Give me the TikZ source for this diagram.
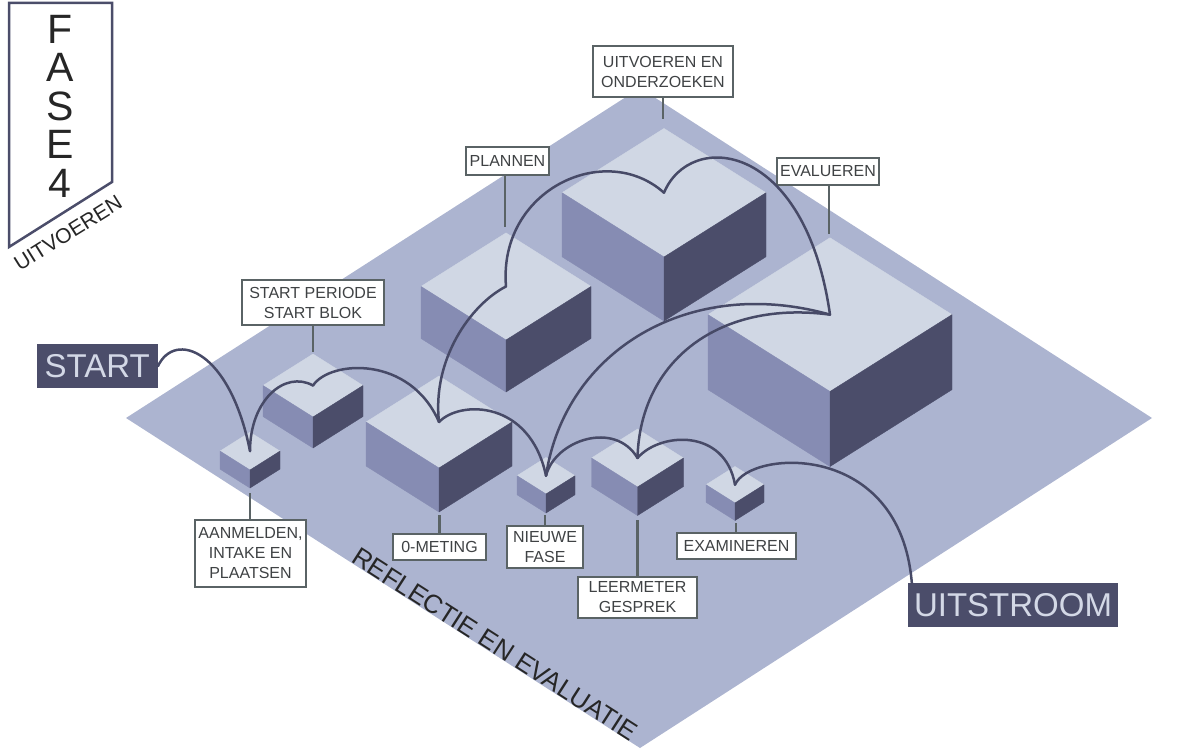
\documentclass[tikz,border=0pt]{standalone}
\usepackage{fontspec}
\setmainfont{Liberation Sans}
\usetikzlibrary{calc}
\definecolor{board}{HTML}{ACB4D0}
\definecolor{ftop}{HTML}{D0D7E4}
\definecolor{fleft}{HTML}{868CB3}
\definecolor{fright}{HTML}{4B4D6A}
\definecolor{arccol}{HTML}{474A67}
\definecolor{lblline}{HTML}{5A6365}
\definecolor{lbltext}{HTML}{3F4244}
\definecolor{darkbg}{HTML}{4B4D6A}
\definecolor{lighttext}{HTML}{D3D8E6}
\definecolor{inkcol}{HTML}{262626}

% cx, front-top y, half width, height, name of top-centre coordinate
\newcommand{\isobox}[5]{%
  \pgfmathsetmacro{\ibdy}{0.63*#3}%
  \filldraw[fill=ftop,draw=ftop,line width=0.4pt,line join=round]
    (#1,#2) -- ++(-#3,-\ibdy) -- ++(#3,-\ibdy) -- ++(#3,\ibdy) -- cycle;
  \filldraw[fill=fleft,draw=fleft,line width=0.4pt,line join=round]
    (#1,#2) -- ++(-#3,-\ibdy) -- ++(0,#4) -- (#1,#2+#4) -- cycle;
  \filldraw[fill=fright,draw=fright,line width=0.4pt,line join=round]
    (#1,#2) -- ++(#3,-\ibdy) -- ++(0,#4) -- (#1,#2+#4) -- cycle;
  \coordinate (#5) at (#1,#2-\ibdy);
}

\tikzset{
  lbl/.style={draw=lblline, line width=2.8pt, fill=white, text=lbltext,
    font=\fontsize{16}{20}\selectfont, align=center, inner sep=0pt},
  leader/.style={draw=lblline, line width=2.8pt},
  hop/.style={draw=arccol, line width=2.5pt, line cap=round},
  bigtag/.style={fill=darkbg, text=lighttext, font=\fontsize{33}{33}\selectfont,
    inner sep=0pt, minimum height=44pt},
}

\begin{document}
\begin{tikzpicture}[x=1pt,y=-1pt]
\useasboundingbox (0,0) rectangle (1200,754);

% board
\fill[board] (126,418) -- (640,88) -- (1152,418) -- (640,748) -- cycle;

% boxes, back to front
\isobox{664}{257}{102}{64}{cUO}
\isobox{506}{340}{85}{52}{cPL}
\isobox{830}{391.5}{122}{75}{cEV}
\isobox{313}{417}{50}{31}{cSP}
\isobox{439}{468}{73}{44}{cOM}
\isobox{250}{470}{30}{18}{cA}
\isobox{637.5}{487}{46}{28.5}{cLG}
\isobox{546}{494}{29}{19}{cNF}
\isobox{735}{503}{29}{17.5}{cEX}

% labels
\node[lbl, minimum width=140pt, minimum height=51pt] (lUO) at (663,71.5) {UITVOEREN EN\\ONDERZOEKEN};
\node[lbl, minimum width=83pt, minimum height=28pt] (lPL) at (507.5,161) {PLANNEN};
\node[lbl, minimum width=102pt, minimum height=27pt] (lEV) at (828,171.5) {EVALUEREN};
\node[lbl, minimum width=142pt, minimum height=45pt] (lSP) at (313,302.5) {START PERIODE\\START BLOK};
\node[lbl, minimum width=111pt, minimum height=67pt] (lA) at (250.5,553.5) {AANMELDEN,\\INTAKE EN\\PLAATSEN};
\node[lbl, minimum width=93pt, minimum height=26pt] (lOM) at (439.5,547) {0-METING};
\node[lbl, minimum width=76pt, minimum height=42pt] (lNF) at (545,547) {NIEUWE\\FASE};
\node[lbl, minimum width=119pt, minimum height=41pt] (lLG) at (637.5,597.5) {LEERMETER\\GESPREK};
\node[lbl, minimum width=119pt, minimum height=26pt] (lEX) at (736.5,546) {EXAMINEREN};

% leader ends
\coordinate (eUO) at (663,119);
\coordinate (ePL) at (505,227);
\coordinate (eEV) at (829,234);
\coordinate (eSP) at (313,352);
\coordinate (eA) at (250,493);
\coordinate (eOM) at (439.5,515);
\coordinate (eNF) at (545,515);
\coordinate (eLG) at (637.5,520);
\coordinate (eEX) at (736,523);
\draw[leader] (lUO.south) -- (lUO.south |- eUO);
\draw[leader] (lPL.south -| ePL) -- (ePL);
\draw[leader] (lEV.south -| eEV) -- (eEV);
\draw[leader] (lSP.south) -- (eSP);
\draw[leader] (eA) -- (eA |- lA.north);
\draw[leader] (eOM) -- (lOM.north);
\draw[leader] (eNF) -- (lNF.north);
\draw[leader] (eLG) -- (lLG.north);
\draw[leader] (eEX) -- (eEX |- lEX.north);

% start / end tags
\node[bigtag, minimum width=121pt] (start) at (97.2,366.2) {START};
\node[bigtag, minimum width=210pt] (uit) at (1013,605) {UITSTROOM};
\coordinate (uitin) at ($(uit.north west)+(4,0)$);

% hops
\draw[hop] (start.east) .. controls (175,330) and (230,350) .. (cA);
\draw[hop] (cA) .. controls (250,400) and (285,370) .. (cSP);
\draw[hop] (cSP) .. controls (330,360) and (410,355) .. (cOM);
\draw[hop] (cOM) .. controls (432,360) and (470,305) .. (cPL);
\draw[hop] (cPL) .. controls (498,190) and (605,140) .. (cUO);
\draw[hop] (cUO) .. controls (690,130) and (805,140) .. (cEV);
\draw[hop] (cEV) .. controls (690,275) and (565,350) .. (cNF);
\draw[hop] (cEV) .. controls (720,300) and (640,360) .. (cLG);
\draw[hop] (cOM) .. controls (460,400) and (530,400) .. (cNF);
\draw[hop] (cNF) .. controls (555,440) and (615,420) .. (cLG);
\draw[hop] (cLG) .. controls (660,432) and (725,428) .. (cEX);
\draw[hop] (cEX) .. controls (750,450) and (900,440) .. (uitin);

% edge text
\node[rotate=-32.7, text=inkcol, font=\fontsize{26}{26}\selectfont, inner sep=0pt] (refl) at (495,644) {REFLECTIE EN EVALUATIE};

% phase banner
\draw[draw=darkbg, line width=2.5pt, line join=miter] (9,3) -- (9,247) -- (112,182) -- (112,3) -- cycle;
\node[align=center, text=inkcol, font=\fontsize{41}{38.5}\selectfont, inner sep=0pt, anchor=north] (fase) at (60,15) {F\\A\\S\\E\\4};
\node[rotate=32, text=inkcol, font=\fontsize{21}{21}\selectfont, inner sep=0pt] (uitv) at (68,233) {UITVOEREN};
\end{tikzpicture}
\end{document}
